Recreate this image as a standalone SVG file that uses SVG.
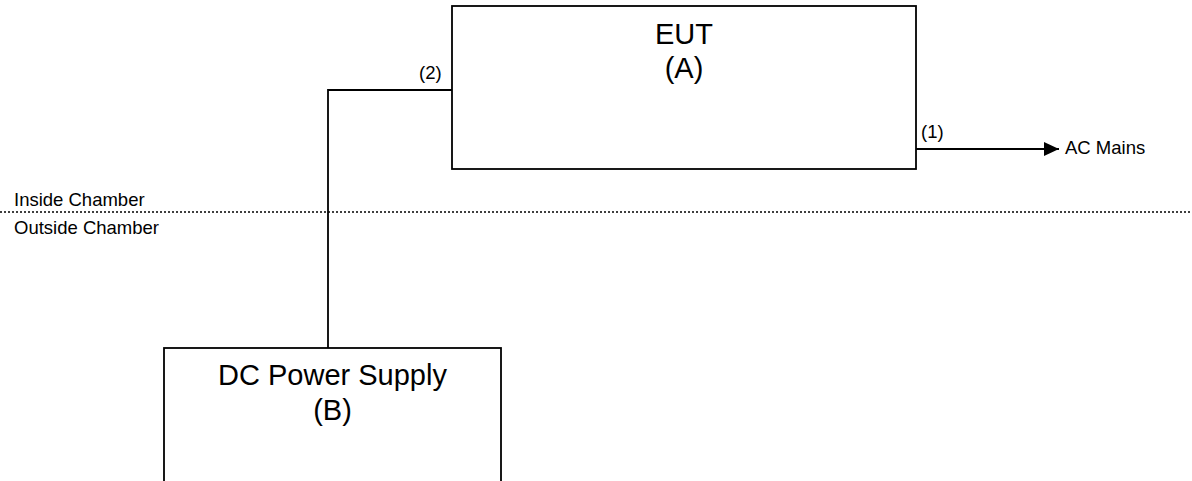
<svg xmlns="http://www.w3.org/2000/svg" width="1192" height="481" viewBox="0 0 1192 481">
  <style>
    text { font-family: "Liberation Sans", Arial, sans-serif; fill: #000; }
    .title { font-size: 29px; text-anchor: middle; }
    .lbl { font-size: 18.5px; }
    .box { fill: #fff; stroke: #000; stroke-width: 1.8; }
    .wire { fill: none; stroke: #000; stroke-width: 1.8; }
  </style>
  <defs>
    <marker id="arrow" markerUnits="userSpaceOnUse" markerWidth="16" markerHeight="14" refX="15" refY="7" orient="auto">
      <path d="M0,0 L15,7 L0,14 Z" fill="#000"/>
    </marker>
  </defs>
  <rect width="1192" height="481" fill="#fff"/>
  <g id="boundary">
    <line x1="0" y1="212" x2="1192" y2="212" stroke="#000" stroke-width="1.5" stroke-dasharray="2 2"/>
    <text class="lbl" x="14" y="206">Inside Chamber</text>
    <text class="lbl" x="14" y="234">Outside Chamber</text>
  </g>
  <g id="connectors">
    <polyline class="wire" points="452,90 328,90 328,348"/>
    <line class="wire" x1="916" y1="149" x2="1059" y2="149" marker-end="url(#arrow)"/>
    <text class="lbl" x="419" y="79">(2)</text>
    <text class="lbl" x="921" y="138">(1)</text>
    <text class="lbl" x="1065" y="154">AC Mains</text>
  </g>
  <g id="eut">
    <rect class="box" x="452" y="6" width="464" height="163"/>
    <text class="title" x="684" y="44">EUT</text>
    <text class="title" x="684" y="78">(A)</text>
  </g>
  <g id="dc-power-supply">
    <rect class="box" x="164" y="348" width="337" height="150"/>
    <text class="title" x="332.5" y="385">DC Power Supply</text>
    <text class="title" x="332.5" y="420">(B)</text>
  </g>
</svg>
